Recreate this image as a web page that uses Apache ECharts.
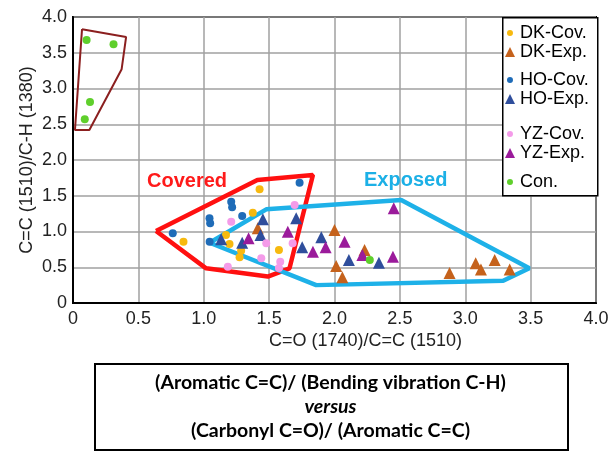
<!DOCTYPE html>
<html><head><meta charset="utf-8">
<script src="https://cdn.jsdelivr.net/npm/echarts@6/dist/echarts.min.js"></script>
<style>html,body{margin:0;padding:0;background:#fff}#c{width:615px;height:454px}</style>
</head><body><div id="c"></div>
<script>
var xTicks = ['0','0.5','1.0','1.5','2.0','2.5','3.0','3.5','4.0'];
var yTicks = ['0','0.5','1.0','1.5','2.0','2.5','3.0','3.5','4.0'];
var seriesNames = ['DK-Cov.','DK-Exp.','HO-Cov.','HO-Exp.','YZ-Cov.','YZ-Exp.','Con.'];
var dkCov = [[0.845,0.857],[1.427,1.59],[1.17,0.95],[1.197,0.825],[1.286,0.73],[1.274,0.64],[1.375,1.263],[1.575,0.741]];
var dkExp = [[1.413,1.045],[2.0,1.02],[2.013,0.517],[2.06,0.36],[2.23,0.74],[2.88,0.42],[3.08,0.555],[3.12,0.47],[3.225,0.60],[3.34,0.47]];
var hoCov = [[0.763,0.975],[1.044,1.185],[1.049,1.115],[1.21,1.417],[1.217,1.338],[1.294,1.217],[1.733,1.683],[1.045,0.857]];
var hoExp = [[1.133,0.89],[1.294,0.843],[1.434,0.95],[1.452,1.17],[1.707,1.185],[1.753,0.78],[1.899,0.92],[2.11,0.60],[2.34,0.564]];
var yzCov = [[1.21,1.137],[1.478,0.835],[1.44,0.625],[1.184,0.508],[1.695,1.37],[1.68,0.835],[1.585,0.578],[1.575,0.49]];
var yzExp = [[1.343,0.905],[1.643,0.997],[1.835,0.718],[1.932,0.78],[2.453,1.325],[2.077,0.857],[2.213,0.671],[2.447,0.648]];
var con = [[0.104,3.68],[0.31,3.62],[0.13,2.81],[0.09,2.57],[2.27,0.60]];
var conPoly = [[0.069,3.83],[0.406,3.72],[0.372,3.27],[0.125,2.42],[0.015,2.42]];
var coveredPoly = [[0.635,1.007],[1.41,1.72],[1.835,1.79],[1.656,0.485],[1.49,0.37],[1.018,0.485]];
var exposedPoly = [[1.045,0.843],[1.478,1.31],[2.51,1.44],[3.49,0.485],[3.29,0.31],[1.86,0.25]];
var xName = 'C=O (1740)/C=C (1510)';
var yName = 'C=C (1510)/C-H (1380)';
var boxLines = ['(Aromatic C=C)/ (Bending vibration C-H)','versus','(Carbonyl C=O)/ (Aromatic C=C)'];

function closed(p){ return p.concat([p[0]]); }
var FONT = '"Liberation Sans", Arial, sans-serif';
var chart = echarts.init(document.getElementById('c'), null, {renderer:'canvas'});
function sc(name, data, color, symbol, size){
  return {name:name, type:'scatter', data:data, symbol:symbol, symbolSize:size,
    itemStyle:{color:color, opacity:1}, z:5, emphasis:{disabled:true}};
}
function poly(data, color, w){
  return {type:'line', data:closed(data), symbol:'none', silent:true, z:3,
    lineStyle:{color:color, width:w}, legendHoverLink:false, animation:false};
}
var legText = {fontSize:18, color:'#000', fontFamily:FONT};
var dotIcon = 'path://M5,2A3,3,0,1,1,4.99,2Z M0,0L0.01,0M10,10L9.99,10';
function leg(names, top, icons){
  return {orient:'vertical', left:505, top:top, itemGap:1, itemWidth:10, itemHeight:10,
    selectedMode:false, textStyle:legText, padding:0,
    data:names.map(function(n,i){return {name:n, icon:icons[i]};})};
}
chart.setOption({
  animation:false,
  grid:{left:73, right:19, top:17, bottom:151, show:true, borderColor:'#000', borderWidth:2, backgroundColor:'#fff'},
  xAxis:{type:'value', min:0, max:4, interval:0.5, name:xName, nameLocation:'middle', nameGap:29, nameMoveOverlap:false,
    nameTextStyle:{fontSize:18, color:'#222', fontFamily:FONT, padding:[0,0,0,62]},
    axisLine:{lineStyle:{color:'#000', width:2}}, axisTick:{show:false},
    axisLabel:{fontSize:18, color:'#222', fontFamily:FONT, margin:7,
      formatter:function(v){return xTicks[Math.round(v/0.5)];}},
    splitLine:{lineStyle:{color:'#a0a0a0', width:1.5}}},
  yAxis:{type:'value', min:0, max:4, interval:0.5, name:yName, nameLocation:'middle', nameGap:37, nameMoveOverlap:false,
    nameTextStyle:{fontSize:18, color:'#222', fontFamily:FONT},
    axisLine:{lineStyle:{color:'#000', width:2}}, axisTick:{show:false},
    axisLabel:{fontSize:18, color:'#222', fontFamily:FONT, margin:6,
      formatter:function(v){return yTicks[Math.round(v/0.5)];}},
    splitLine:{lineStyle:{color:'#a0a0a0', width:1.5}}},
  legend:[
    leg([seriesNames[0],seriesNames[1]], 24, [dotIcon,'triangle']),
    leg([seriesNames[2],seriesNames[3]], 71, [dotIcon,'triangle']),
    leg([seriesNames[4],seriesNames[5]], 125, [dotIcon,'triangle']),
    leg([seriesNames[6]], 173, [dotIcon])
  ],
  graphic:[
    {type:'rect', left:502, top:17, shape:{width:95, height:178}, z:3,
      style:{fill:'#fff', stroke:'#000', lineWidth:1.5}},
    {type:'text', left:147, top:171, z:10, style:{text:'Covered', fill:'#ff1a1a', font:'bold 20px '+FONT}},
    {type:'text', left:364, top:170, z:10, style:{text:'Exposed', fill:'#1cb0e6', font:'bold 20px '+FONT}},
    {type:'rect', left:94, top:363, shape:{width:473, height:86}, z:10,
      style:{fill:'#fff', stroke:'#000', lineWidth:2}},
    {type:'text', x:330.5, y:383, z:11, style:{text:boxLines[0], fill:'#000', font:'bold 19.5px Lato, sans-serif', align:'center', verticalAlign:'middle'}},
    {type:'text', x:330.5, y:407, z:11, style:{text:boxLines[1], fill:'#000', font:'italic bold 19.5px Lato, sans-serif', align:'center', verticalAlign:'middle'}},
    {type:'text', x:330.5, y:431, z:11, style:{text:boxLines[2], fill:'#000', font:'bold 19.5px Lato, sans-serif', align:'center', verticalAlign:'middle'}}
  ],
  series:[
    poly(conPoly, '#8b1f1f', 2),
    poly(coveredPoly, '#ff1010', 4.5),
    poly(exposedPoly, '#1eb1e8', 4.5),
    sc(seriesNames[0], dkCov, '#f7b90f', 'circle', 8),
    sc(seriesNames[1], dkExp, '#c5621c', 'triangle', 12),
    sc(seriesNames[2], hoCov, '#1f6cb8', 'circle', 8),
    sc(seriesNames[3], hoExp, '#2f4e9c', 'triangle', 12),
    sc(seriesNames[4], yzCov, '#f49be9', 'circle', 8),
    sc(seriesNames[5], yzExp, '#9b1b9b', 'triangle', 12),
    sc(seriesNames[6], con, '#5fcf2c', 'circle', 8)
  ]
});
</script></body></html>
